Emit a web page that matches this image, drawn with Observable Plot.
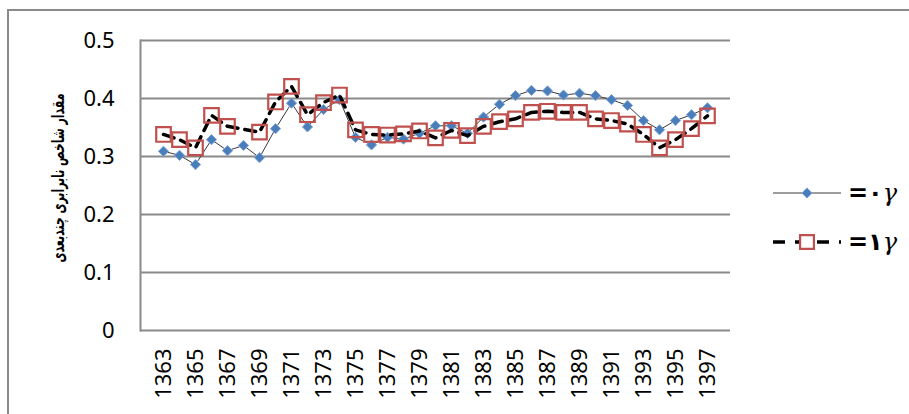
<!DOCTYPE html>
<html>
<head>
<meta charset="utf-8">
<script src="https://cdn.jsdelivr.net/npm/d3@7"></script>
<script src="https://cdn.jsdelivr.net/npm/@observablehq/plot@0.6"></script>
<style>
  body { margin: 0; background: #fff; }
  #wrap { position: relative; width: 909px; height: 414px; overflow: hidden; }
  #frame { position: absolute; left: 7px; top: 9px; width: 1000px; height: 600px;
           border-left: 2px solid #8a8a8a; border-top: 2px solid #8a8a8a; }
  #chart { position: absolute; left: 0; top: 0; }
  #ytitle { position: absolute; left: 58px; top: 178px; white-space: nowrap;
            transform: translate(-50%, -50%) rotate(-90deg) scale(0.78, 1.25);
            font-family: "DejaVu Sans", sans-serif; font-size: 14px; font-weight: bold; color: #000; }
  #legend { position: absolute; left: 773px; top: 168px; }
  .row { display: flex; align-items: center; height: 49px; margin-top: 0; }
  .row svg { display: block; }
  .lab { margin-left: 7px; font-size: 24px; line-height: 28px; direction: ltr; unicode-bidi: bidi-override; }
  .lab b { font-family: "DejaVu Sans", sans-serif; font-weight: bold; }
  .lab i { font-family: "DejaVu Serif", serif; font-style: italic; }
</style>
</head>
<body>
<div id="wrap">
  <div id="frame"></div>
  <div id="chart"></div>
  <div id="ytitle">مقدار شاخص نابرابری چندبعدی</div>
  <div id="legend"></div>
</div>
<script>
const years = [1363, 1364, 1365, 1366, 1367, 1368, 1369, 1370, 1371, 1372, 1373, 1374,
  1375, 1376, 1377, 1378, 1379, 1380, 1381, 1382, 1383, 1384, 1385, 1386, 1387, 1388,
  1389, 1390, 1391, 1392, 1393, 1394, 1395, 1396, 1397];

// gamma = 0
const gamma0 = [0.309, 0.302, 0.286, 0.329, 0.310, 0.319, 0.298, 0.348, 0.392, 0.351,
  0.381, 0.398, 0.333, 0.320, 0.333, 0.330, 0.340, 0.353, 0.353, 0.340, 0.368, 0.390,
  0.405, 0.414, 0.413, 0.406, 0.409, 0.405, 0.398, 0.388, 0.362, 0.346, 0.362, 0.372, 0.384];

// gamma = 1
const gamma1 = [0.338, 0.329, 0.315, 0.371, 0.352, 0.347, 0.342, 0.394, 0.421, 0.372,
  0.393, 0.406, 0.346, 0.338, 0.337, 0.339, 0.344, 0.332, 0.345, 0.336, 0.352, 0.360,
  0.365, 0.376, 0.378, 0.376, 0.376, 0.365, 0.362, 0.356, 0.338, 0.315, 0.329, 0.348, 0.370];
const gamma1NoMarker = [1368]; // no square drawn for this year in the source

const yTicks = [0, 0.1, 0.2, 0.3, 0.4, 0.5];
const xTicks = [1363, 1365, 1367, 1369, 1371, 1373, 1375, 1377, 1379, 1381, 1383, 1385,
  1387, 1389, 1391, 1393, 1395, 1397];
const legendLabels = ["=\u06F0", "=\u06F1"];

const s0 = years.map((y, i) => ({year: y, v: gamma0[i]}));
const s1 = years.map((y, i) => ({year: y, v: gamma1[i]}));

const grid = "#8a8a8a";
const blue = "#4a7ebb";
const red = "#c0504d";

const chart = Plot.plot({
  width: 760,
  height: 414,
  marginLeft: 140,
  marginRight: 30,
  marginTop: 40,
  marginBottom: 84,
  style: {fontFamily: "'Noto Sans', sans-serif", background: "transparent", color: "#000"},
  x: {type: "point", domain: years, padding: 0.5, label: null},
  y: {domain: [0, 0.5], label: null},
  marks: [
    Plot.ruleY(yTicks, {stroke: grid, strokeWidth: 2}),
    Plot.frame({anchor: "left", stroke: grid, strokeWidth: 2}),
    Plot.axisY({ticks: yTicks, tickSize: 0, tickPadding: 26, fontSize: 22,
      tickFormat: d => d === 0 ? "0" : d.toFixed(1)}),
    Plot.axisX({ticks: xTicks, tickSize: 0, tickPadding: 18, tickRotate: -90, fontSize: 22,
      tickFormat: d => String(d)}),
    Plot.line(s0, {x: "year", y: "v", stroke: "#3a3a3a", strokeWidth: 1}),
    Plot.dot(s0, {x: "year", y: "v", symbol: "diamond2", r: 4.6, fill: blue, stroke: "#7fa4d6", strokeWidth: 1}),
    Plot.line(s1, {x: "year", y: "v", stroke: "#000", strokeWidth: 3.5, strokeDasharray: "11,7"}),
    Plot.dot(s1.filter(d => !gamma1NoMarker.includes(d.year)),
      {x: "year", y: "v", symbol: "square", r: 8.2, fill: "none", stroke: red, strokeWidth: 2.2})
  ]
});
d3.select("#chart").append(() => chart);

// legend
const legend = d3.select("#legend");
const styles = [
  {stroke: "#3a3a3a", width: 1, dash: null},
  {stroke: "#000", width: 3.5, dash: "12,10"}
];
styles.forEach((st, i) => {
  const row = legend.append("div").attr("class", "row");
  const sw = row.append("svg").attr("width", 68).attr("height", 24);
  sw.append("line").attr("x1", 0).attr("x2", 68).attr("y1", 12).attr("y2", 12)
    .attr("stroke", st.stroke).attr("stroke-width", st.width)
    .attr("stroke-dasharray", st.dash);
  if (i === 0) {
    sw.append("path").attr("d", d3.symbol(d3.symbolDiamond2, Math.PI * 4.6 * 4.6)())
      .attr("transform", "translate(34,12)").attr("fill", blue).attr("stroke", "#7fa4d6");
  } else {
    sw.append("path").attr("d", d3.symbol(d3.symbolSquare, Math.PI * 7.8 * 7.8)())
      .attr("transform", "translate(34,12)").attr("fill", "#fff").attr("stroke", red).attr("stroke-width", 2.2);
  }
  const lab = row.append("span").attr("class", "lab");
  lab.append("b").text(legendLabels[i]);
  lab.append("i").text("\u03B3");
});
</script>
</body>
</html>
